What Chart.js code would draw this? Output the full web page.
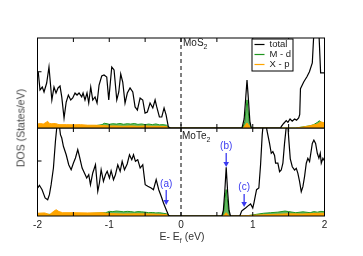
<!DOCTYPE html>
<html>
<head>
<meta charset="utf-8">
<script src="https://cdn.jsdelivr.net/npm/chart.js@4.4.0/dist/chart.umd.min.js"></script>
<style>
  body { margin: 0; background: #fff; }
  #wrap { position: relative; width: 363px; height: 256px; font-family: "Liberation Sans", Arial, sans-serif; color: #222; }
  canvas { position: absolute; left: 0; }
  #topChart { top: 0; }
  #botChart { top: 128px; }
  .lbl { position: absolute; font-size: 10px; line-height: 10px; white-space: nowrap; }
  .sub { font-size: 7px; position: relative; top: 3px; }
  #ytitle { position: absolute; left: 21px; top: 128px; font-size: 10.5px; line-height: 11px; white-space: nowrap;
            transform: translate(-50%, -50%) rotate(-90deg); color: #444; }
  #xtitle { position: absolute; left: 182px; top: 231px; font-size: 10.5px; line-height: 11px; white-space: nowrap;
            transform: translateX(-50%); color: #333; }
</style>
</head>
<body>
<div id="wrap">
  <canvas id="topChart" width="363" height="130"></canvas>
  <canvas id="botChart" width="363" height="128"></canvas>
  <div class="lbl" style="left:183px;top:38px">MoS<span class="sub">2</span></div>
  <div class="lbl" style="left:182px;top:131px">MoTe<span class="sub">2</span></div>
  <div id="ytitle">DOS (States/eV)</div>
  <div id="xtitle">E- E<span class="sub">f</span> (eV)</div>
</div>
<script>
// MoS2 (top panel)
const topTotalE = [-1.99, -1.965, -1.933, -1.909, -1.872, -1.84, -1.80, -1.77, -1.742, -1.714, -1.686, -1.662, -1.63, -1.60,
  -1.57, -1.537, -1.509, -1.477, -1.449, -1.421, -1.384, -1.365, -1.338, -1.31, -1.286, -1.258, -1.23, -1.198, -1.17,
  -1.142, -1.105, -1.073, -1.035, -1.007, -0.965, -0.933, -0.895, -0.867, -0.84, -0.812, -0.78, -0.748, -0.71, -0.672,
  -0.64, -0.608, -0.57, -0.533, -0.501, -0.469, -0.431, -0.393, -0.361, -0.338, -0.301, -0.268, -0.236, -0.208, -0.176,
  -0.15, 0.85, 0.88, 0.90, 0.92, 0.94, 0.96, 0.98, 1.39, 1.397, 1.43, 1.467, 1.49, 1.52, 1.55, 1.583, 1.61, 1.64, 1.655,
  1.665, 1.71, 1.755, 1.79, 1.83, 1.852, 1.876, 1.9, 1.922, 1.946, 2.0];
const topTotalV = [5.0, 3.38, 3.64, 3.2, 4.0, 5.42, 2.49, 3.64, 3.11, 3.56, 3.73, 2.76, 0.89, 2.31,
  2.93, 2.49, 2.67, 3.11, 2.93, 3.11, 2.76, 3.11, 2.49, 3.11, 2.22, 3.64, 2.49, 2.76, 2.22,
  3.82, 4.62, 4.71, 4.53, 2.49, 5.42, 5.16, 2.49, 3.2, 4.8, 4.09, 2.22, 3.11, 3.56, 3.2,
  1.87, 1.6, 2.67, 2.49, 1.33, 1.42, 2.22, 1.78, 2.49, 1.87, 0.98, 0.98, 1.78, 1.16, 0.09,
  0, 0, 0.8, 2.5, 4.27, 2.5, 0.6, 0, 0, 0.12, 0.4, 0.65, 0.5, 0.8, 0.6, 0.8, 0.7, 0.9, 1.2,
  3.5, 4.09, 4.56, 5.0, 5.78, 8.5, 10, 9.5, 8.5, 4.9, 4.9];
const topMdE = [-2, -1.8, -1.6, -1.4, -1.2, -1.1, -1.07, -1.03, -1.0, -0.95, -0.9, -0.85, -0.8, -0.75, -0.7, -0.65, -0.6,
  -0.55, -0.5, -0.45, -0.4, -0.35, -0.3, -0.25, -0.2, -0.17, -0.14, 0.86, 0.89, 0.905, 0.92, 0.935, 0.95, 0.98,
  1.6, 1.7, 1.8, 1.85, 1.9, 1.93, 1.96, 2.0];
const topMdV = [0.15, 0.15, 0.12, 0.15, 0.2, 0.3, 0.42, 0.38, 0.33, 0.38, 0.35, 0.4, 0.33, 0.38, 0.35, 0.4, 0.32,
  0.36, 0.3, 0.35, 0.3, 0.36, 0.28, 0.3, 0.25, 0.08, 0, 0, 0.6, 1.6, 2.5, 1.6, 0.6, 0,
  0, 0.1, 0.2, 0.3, 0.5, 0.65, 0.45, 0.4];
const topXpE = [-2, -1.96, -1.92, -1.88, -1.86, -1.83, -1.8, -1.75, -1.7, -1.6, -1.5, -1.4, -1.3, -1.2, -1.1, -1.0, -0.9,
  -0.8, -0.7, -0.6, -0.5, -0.4, -0.3, -0.2, -0.16, 0.87, 0.9, 0.92, 0.94, 0.97, 1.6, 1.7, 1.8, 1.9, 1.95, 2.0];
const topXpV = [0.35, 0.4, 0.35, 0.5, 0.6, 0.4, 0.38, 0.4, 0.3, 0.3, 0.28, 0.3, 0.25, 0.25, 0.22, 0.18, 0.18,
  0.15, 0.18, 0.15, 0.18, 0.15, 0.15, 0.12, 0, 0, 0.3, 0.45, 0.3, 0, 0, 0.08, 0.2, 0.35, 0.55, 0.45];

// MoTe2 (bottom panel)
const botTotalE = [-1.997, -1.973, -1.936, -1.894, -1.858, -1.834, -1.81, -1.778, -1.75, -1.732, -1.713, -1.695, -1.68,
  -1.662, -1.639, -1.60, -1.565, -1.531, -1.499, -1.471, -1.439, -1.416, -1.378, -1.346, -1.314, -1.286, -1.262, -1.23,
  -1.192, -1.16, -1.137, -1.113, -1.081, -1.053, -1.029, -0.997, -0.974, -0.941, -0.914, -0.881, -0.848, -0.82, -0.788,
  -0.75, -0.718, -0.686, -0.662, -0.635, -0.603, -0.569, -0.533, -0.499, -0.463, -0.416, -0.384, -0.346, -0.31, -0.276,
  -0.244, -0.206, -0.174, -0.15, 0.57, 0.59, 0.61, 0.63, 0.65, 0.67, 0.69, 0.82, 0.845, 0.867, 0.9, 0.93, 0.97, 1.0,
  1.016, 1.053, 1.085, 1.109, 1.132, 1.155, 1.175, 1.197, 1.234, 1.258, 1.28, 1.304, 1.318, 1.35, 1.374, 1.397, 1.42,
  1.443, 1.467, 1.481, 1.503, 1.523, 1.551, 1.583, 1.607, 1.629, 1.653, 1.676, 1.699, 1.722, 1.746, 1.768, 1.792, 1.83,
  1.852, 1.876, 1.9, 1.922, 1.941, 1.955, 1.978, 2.0];
const botTotalV = [2.55, 2.79, 2.39, 1.64, 1.48, 1.94, 2.85, 4.36, 6.79, 8.0, 8.8, 8.2, 7.39,
  7.09, 6.34, 5.57, 4.66, 4.21, 4.82, 5.27, 6.03, 5.43, 4.36, 3.91, 3.45, 3.75, 2.85, 3.91,
  4.66, 2.25, 3.0, 4.21, 3.15, 3.75, 4.06, 3.45, 4.12, 3.3, 3.75, 4.66, 4.06, 4.97, 4.21,
  4.73, 5.57, 5.12, 5.57, 4.97, 5.12, 4.36, 4.66, 2.85, 2.7, 2.55, 2.39, 3.3, 2.39, 1.79,
  1.18, 0.57, 0.06, 0, 0, 0.5, 2.2, 4.43, 2.2, 0.5, 0, 0, 0.45, 0.57, 0.73, 0.9, 1.09, 0.73,
  1.18, 2.39, 2.55, 4.66, 7.4, 9, 9, 7.8, 6.6, 5.7, 5.85, 5.5, 4.8, 4.8, 4.03, 4.18, 4.8,
  6.6, 8.1, 9, 6.9, 5.2, 4.48, 4.18, 4.33, 3.88, 3.12, 2.21, 2.67, 3.58, 4.8, 5.25, 4.94, 6.6,
  6.9, 6.6, 5.7, 5.25, 5.7, 4.8, 5.25, 5.0];
const botMdE = [-2, -1.5, -1.05, -1.0, -0.95, -0.9, -0.85, -0.8, -0.75, -0.7, -0.65, -0.6, -0.55, -0.5, -0.45, -0.4,
  -0.35, -0.3, -0.25, -0.2, -0.16, 0.58, 0.6, 0.615, 0.63, 0.645, 0.66, 0.68, 0.85, 0.95, 1.05, 1.15, 1.25, 1.35,
  1.45, 1.5, 1.6, 1.7, 1.8, 1.85, 1.9, 1.95, 2.0];
const botMdV = [0.15, 0.15, 0.3, 0.42, 0.4, 0.45, 0.42, 0.38, 0.42, 0.4, 0.35, 0.4, 0.38, 0.35, 0.3, 0.32,
  0.28, 0.3, 0.25, 0.2, 0, 0, 0.6, 1.6, 2.4, 1.6, 0.6, 0, 0, 0.05, 0.15, 0.25, 0.3, 0.35,
  0.45, 0.4, 0.3, 0.38, 0.3, 0.4, 0.35, 0.42, 0.38];
const botXpE = [-2, -1.9, -1.83, -1.78, -1.74, -1.7, -1.65, -1.5, -1.3, -1.1, -1.0, -0.8, -0.6, -0.4, -0.2, -0.16,
  0.59, 0.61, 0.63, 0.65, 0.67, 0.9, 1.1, 1.3, 1.5, 1.7, 1.9, 2.0];
const botXpV = [0.25, 0.28, 0.12, 0.4, 0.57, 0.4, 0.3, 0.3, 0.28, 0.3, 0.22, 0.18, 0.2, 0.18, 0.12, 0,
  0, 0.15, 0.3, 0.15, 0, 0.03, 0.1, 0.15, 0.2, 0.18, 0.25, 0.25];

// arrows (a), (b), (c) in the MoTe2 panel
const annoLabels = ['(a)', '(b)', '(c)'];
const annoE = [-0.206, 0.63, 0.88];
const annoTextV = [2.88, 6.3, 2.57];
const annoFromV = [2.36, 5.73, 2.0];
const annoToV = [1.0, 4.45, 0.82];

const xTicks = [-2, -1, 0, 1, 2];
const legendNames = ['total', 'M - d', 'X - p'];
const colTotal = '#000', colMd = '#1f961f', colMdFill = 'rgba(70,170,70,0.85)', colXp = '#ffa500';
const FONT = '"Liberation Sans", Arial, sans-serif';

const pts = (e, v) => e.map((x, i) => ({ x, y: v[i] }));

function makeDatasets(totE, totV, mdE, mdV, xpE, xpV) {
  return [
    { label: legendNames[0], data: pts(totE, totV), borderColor: colTotal, borderWidth: 1.2, order: 0 },
    { label: legendNames[1], data: pts(mdE, mdV), borderColor: colMd, backgroundColor: colMdFill, borderWidth: 1, fill: 'origin', order: 2 },
    { label: legendNames[2], data: pts(xpE, xpV), borderColor: colXp, backgroundColor: colXp, borderWidth: 1, fill: 'origin', order: 1 }
  ];
}

const framePlugin = {
  id: 'frame',
  afterDatasetsDraw(chart) {
    const { ctx, chartArea: a, scales: { x, y } } = chart;
    ctx.save();
    ctx.strokeStyle = '#000';
    ctx.lineWidth = 1;
    const x0 = x.getPixelForValue(0);
    ctx.setLineDash([4, 3]);
    ctx.beginPath();
    ctx.moveTo(x0, a.top);
    ctx.lineTo(x0, a.bottom);
    ctx.stroke();
    ctx.setLineDash([]);
    ctx.strokeRect(a.left, a.top, a.right - a.left, a.bottom - a.top);
    ctx.beginPath();
    for (let e = -1.5; e < 2; e += 0.5) {
      const px = x.getPixelForValue(e);
      ctx.moveTo(px, a.top); ctx.lineTo(px, a.top + 4);
      ctx.moveTo(px, a.bottom); ctx.lineTo(px, a.bottom - 4);
    }
    const py = y.getPixelForValue(5);
    ctx.moveTo(a.left, py); ctx.lineTo(a.left + 4, py);
    ctx.stroke();
    ctx.restore();
  }
};

const legendPlugin = {
  id: 'boxLegend',
  afterDraw(chart) {
    const { ctx, chartArea: a } = chart;
    const left = a.right - 73, top = a.top + 1, w = 41, h = 32;
    ctx.save();
    ctx.fillStyle = '#fff';
    ctx.fillRect(left, top, w, h);
    ctx.strokeStyle = '#000';
    ctx.lineWidth = 1;
    ctx.strokeRect(left + 0.5, top, w, h);
    const cols = [colTotal, colMd, colXp];
    ctx.font = '9.5px ' + FONT;
    ctx.textBaseline = 'middle';
    legendNames.forEach((name, i) => {
      const yy = top + 5.5 + i * 10;
      ctx.strokeStyle = cols[i];
      ctx.lineWidth = 1.2;
      ctx.beginPath();
      ctx.moveTo(left + 3, yy); ctx.lineTo(left + 13, yy);
      ctx.stroke();
      ctx.fillStyle = '#222';
      ctx.fillText(name, left + 18, yy);
    });
    ctx.restore();
  }
};

const arrowPlugin = {
  id: 'arrows',
  afterDraw(chart) {
    const { ctx, scales: { x, y } } = chart;
    ctx.save();
    ctx.strokeStyle = '#3a3af0';
    ctx.fillStyle = '#3a3af0';
    ctx.lineWidth = 1.3;
    ctx.font = '10px ' + FONT;
    ctx.textAlign = 'center';
    ctx.textBaseline = 'middle';
    annoLabels.forEach((lab, i) => {
      const px = x.getPixelForValue(annoE[i]);
      ctx.fillText(lab, px, y.getPixelForValue(annoTextV[i]));
      const y1 = y.getPixelForValue(annoFromV[i]), y2 = y.getPixelForValue(annoToV[i]);
      ctx.beginPath();
      ctx.moveTo(px, y1); ctx.lineTo(px, y2 - 4);
      ctx.stroke();
      ctx.beginPath();
      ctx.moveTo(px - 2.8, y2 - 5); ctx.lineTo(px + 2.8, y2 - 5); ctx.lineTo(px, y2);
      ctx.closePath();
      ctx.fill();
    });
    ctx.restore();
  }
};

function baseOptions(showX, padding) {
  return {
    responsive: false,
    animation: false,
    layout: { padding },
    elements: { point: { radius: 0 }, line: { tension: 0 } },
    plugins: { legend: { display: false }, tooltip: { enabled: false } },
    scales: {
      x: {
        type: 'linear', min: -2, max: 2, display: showX,
        grid: { display: false, drawTicks: false }, border: { display: false },
        afterBuildTicks: s => { s.ticks = xTicks.map(v => ({ value: v })); },
        ticks: { padding: 3, color: '#222', font: { family: FONT, size: 10 } },
        afterFit: s => { s.height = showX ? 28 : 0; }
      },
      y: { type: 'linear', min: 0, max: 8, display: false }
    }
  };
}

new Chart(document.getElementById('topChart'), {
  type: 'line',
  data: { datasets: makeDatasets(topTotalE, topTotalV, topMdE, topMdV, topXpE, topXpV) },
  options: baseOptions(false, { left: 37.5, right: 38.5, top: 38, bottom: 2 }),
  plugins: [framePlugin, legendPlugin]
});

new Chart(document.getElementById('botChart'), {
  type: 'line',
  data: { datasets: makeDatasets(botTotalE, botTotalV, botMdE, botMdV, botXpE, botXpV) },
  options: baseOptions(true, { left: 37.5, right: 38.5, top: 0, bottom: 12 }),
  plugins: [framePlugin, arrowPlugin]
});
</script>
</body>
</html>
